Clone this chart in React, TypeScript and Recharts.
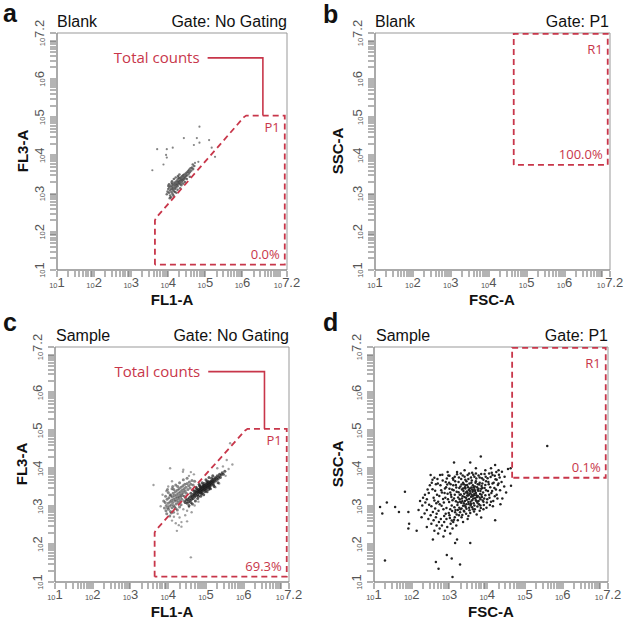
import React from 'react'
import { ScatterChart, Scatter, XAxis, YAxis, ReferenceArea, ReferenceDot } from 'recharts'

// ── Data (all values in log10 units) ─────────────────────────────────────────

const AXIS_EXPONENTS = [1, 2, 3, 4, 5, 6, 7, 7.2]
const LABELLED_EXPONENTS = [1, 2, 3, 4, 5, 6, 7.2]
const MINOR_STEPS = [2, 3, 4, 5, 6, 7, 8, 9]

// P1 gate on FL1-A / FL3-A, closed polygon
const GATE_P1: [number, number][] = [
  [3.64, 1.14], [3.64, 2.3], [3.67, 2.37], [3.72, 2.42], [6.04, 5.0], [6.1, 5.04],
  [7.14, 5.04], [7.14, 1.14], [3.64, 1.14],
]
// R1 gate on FSC-A / SSC-A
const GATE_R1: [number, number][] = [
  [4.66, 3.75], [4.66, 7.18], [7.14, 7.18], [7.14, 3.75], [4.66, 3.75],
]
const TOTAL_COUNTS_LEADER: [number, number][] = [[5.06, 6.55], [6.55, 6.55], [6.55, 5.04]]

// a: Blank, FL1-A vs FL3-A
const BLANK_FL_CLUSTER: [number, number][] = [
  [3.98, 3.05], [4.0, 3.12], [4.02, 3.02], [4.03, 3.16], [4.05, 3.08], [4.05, 2.95], [4.06, 3.2],
  [4.08, 3.12], [4.09, 3.03], [4.1, 3.18], [4.11, 3.25], [4.12, 3.1], [4.13, 3.14], [4.14, 3.22],
  [4.15, 3.06], [4.16, 3.28], [4.17, 3.18], [4.18, 3.12], [4.19, 3.24], [4.2, 3.3], [4.21, 3.16],
  [4.22, 3.22], [4.23, 3.34], [4.24, 3.26], [4.25, 3.19], [4.26, 3.3], [4.27, 3.38], [4.28, 3.24],
  [4.29, 3.32], [4.3, 3.28], [4.31, 3.4], [4.32, 3.34], [4.33, 3.26], [4.34, 3.42], [4.35, 3.36],
  [4.36, 3.31], [4.37, 3.45], [4.38, 3.38], [4.39, 3.34], [4.4, 3.48], [4.41, 3.42], [4.42, 3.37],
  [4.43, 3.5], [4.44, 3.44], [4.46, 3.4], [4.47, 3.52], [4.48, 3.46], [4.5, 3.55], [4.51, 3.48],
  [4.53, 3.58], [4.55, 3.52], [4.56, 3.62], [4.58, 3.56], [4.6, 3.66], [4.62, 3.6], [4.64, 3.68],
  [4.67, 3.64], [4.7, 3.72], [4.07, 2.9], [4.12, 2.98], [4.18, 3.04], [4.25, 3.1], [4.02, 3.24],
  [4.1, 3.32], [4.2, 3.42], [4.3, 3.5], [4.45, 3.3], [4.15, 3.38], [4.26, 3.46], [4.35, 3.22],
  [3.96, 2.98], [4.0, 3.2], [4.04, 2.88], [4.09, 3.28], [4.14, 2.94], [4.22, 3.02], [4.28, 3.42],
  [4.32, 3.14], [4.4, 3.26], [4.5, 3.38], [4.58, 3.44], [4.66, 3.76],
]
const BLANK_FL_OUTLIERS: [number, number][] = [
  [4.84, 4.75], [4.42, 4.45], [4.77, 4.45], [5.1, 4.4], [4.84, 4.33], [4.69, 4.27], [5.17, 4.2],
  [3.7, 4.16], [4.12, 4.2], [3.96, 4.16], [3.94, 4.01], [3.96, 3.94], [3.87, 3.76], [3.57, 3.61],
  [4.72, 3.8], [4.81, 3.83], [5.26, 3.96],
]

// c: Sample, FL1-A vs FL3-A
const SAMPLE_FL_UPPER: [number, number][] = [
  [3.9, 2.95], [3.92, 3.1], [3.94, 2.88], [3.95, 3.02], [3.97, 3.18], [3.98, 2.96], [4.0, 3.08],
  [4.01, 2.92], [4.02, 3.22], [4.03, 3.0], [4.05, 3.12], [4.06, 2.86], [4.07, 3.28], [4.08, 3.04],
  [4.09, 3.16], [4.1, 2.96], [4.11, 3.24], [4.12, 3.1], [4.13, 3.34], [4.14, 3.02], [4.15, 3.18],
  [4.16, 3.28], [4.17, 2.98], [4.18, 3.14], [4.19, 3.38], [4.2, 3.22], [4.21, 3.06], [4.22, 3.3],
  [4.23, 3.16], [4.24, 3.42], [4.25, 3.24], [4.26, 3.1], [4.27, 3.34], [4.28, 3.2], [4.29, 3.46],
  [4.3, 3.28], [4.31, 3.14], [4.32, 3.38], [4.33, 3.24], [4.34, 3.5], [4.35, 3.32], [4.36, 3.18],
  [4.37, 3.42], [4.38, 3.28], [4.39, 3.54], [4.4, 3.36], [4.42, 3.46], [4.43, 3.26], [4.44, 3.58],
  [4.45, 3.4], [4.47, 3.5], [4.48, 3.34], [4.5, 3.6], [4.52, 3.44], [4.54, 3.54], [4.56, 3.64],
  [4.58, 3.48], [4.6, 3.58], [4.63, 3.68], [4.66, 3.56], [4.7, 3.66], [4.05, 3.3], [4.15, 3.44],
  [4.25, 3.52], [3.96, 2.8], [4.08, 2.82], [4.2, 2.94], [4.34, 3.04], [3.88, 3.14], [3.93, 3.26],
  [4.0, 3.36], [4.1, 3.46], [4.2, 3.56], [4.3, 3.62], [4.4, 3.7], [4.5, 3.74], [4.04, 2.74],
  [4.14, 2.84], [4.24, 2.9], [4.3, 2.98], [4.42, 3.14], [4.46, 3.22], [3.98, 3.44], [4.12, 3.52],
]
const SAMPLE_FL_LOWER: [number, number][] = [
  [4.45, 3.1], [4.48, 3.16], [4.5, 3.08], [4.52, 3.18], [4.54, 3.12], [4.56, 3.22], [4.58, 3.16],
  [4.6, 3.26], [4.62, 3.18], [4.63, 3.24], [4.65, 3.3], [4.66, 3.2], [4.68, 3.28], [4.69, 3.34],
  [4.7, 3.24], [4.72, 3.32], [4.73, 3.38], [4.74, 3.28], [4.76, 3.36], [4.77, 3.42], [4.78, 3.3],
  [4.79, 3.38], [4.8, 3.44], [4.81, 3.34], [4.82, 3.4], [4.83, 3.46], [4.84, 3.36], [4.85, 3.42],
  [4.86, 3.48], [4.87, 3.38], [4.88, 3.44], [4.89, 3.5], [4.9, 3.4], [4.91, 3.46], [4.92, 3.52],
  [4.93, 3.42], [4.94, 3.48], [4.95, 3.54], [4.96, 3.44], [4.97, 3.5], [4.98, 3.56], [4.99, 3.46],
  [5.0, 3.52], [5.01, 3.58], [5.02, 3.48], [5.03, 3.54], [5.04, 3.6], [5.05, 3.5], [5.06, 3.56],
  [5.07, 3.62], [5.08, 3.52], [5.09, 3.58], [5.1, 3.64], [5.11, 3.54], [5.12, 3.6], [5.13, 3.66],
  [5.14, 3.56], [5.15, 3.62], [5.16, 3.68], [5.18, 3.6], [5.19, 3.66], [5.2, 3.72], [5.22, 3.64],
  [5.23, 3.7], [5.25, 3.76], [5.27, 3.68], [5.28, 3.74], [5.3, 3.8], [5.32, 3.72], [5.34, 3.78],
  [5.36, 3.84], [5.38, 3.76], [5.4, 3.82], [5.43, 3.88], [5.46, 3.84], [5.5, 3.92], [4.85, 3.52],
  [4.9, 3.34], [4.95, 3.6], [5.0, 3.42], [5.05, 3.66], [5.1, 3.48], [4.75, 3.46], [4.8, 3.26],
  [5.15, 3.74], [5.2, 3.56], [4.7, 3.4], [4.6, 3.1], [4.92, 3.56], [4.97, 3.38], [5.02, 3.64],
  [5.07, 3.44], [4.88, 3.32], [4.83, 3.54], [4.55, 3.02], [4.64, 3.06], [4.72, 3.14], [4.78, 3.2],
  [4.86, 3.26], [4.94, 3.3], [5.03, 3.38], [5.12, 3.46], [5.22, 3.52], [5.32, 3.62], [4.6, 3.34],
  [4.66, 3.42], [4.74, 3.5], [4.82, 3.58], [4.9, 3.62], [5.0, 3.7], [5.08, 3.76], [5.18, 3.8],
]
const SAMPLE_FL_SPREAD: [number, number][] = [
  [4.05, 4.0], [3.61, 3.56], [4.4, 3.96], [5.55, 4.22], [4.23, 2.35], [4.6, 1.65], [5.64, 4.66],
  [4.39, 3.91], [4.1, 2.62], [4.2, 2.55], [4.3, 2.7], [4.35, 2.58], [4.45, 2.76], [4.15, 2.72],
  [4.5, 2.88], [4.25, 2.8], [4.4, 2.92], [3.85, 3.3], [3.95, 3.4], [4.0, 3.52], [4.55, 3.8],
  [4.6, 3.9], [5.3, 4.0], [5.45, 4.05], [5.6, 3.98], [4.7, 3.02], [4.8, 3.12], [4.35, 2.46],
  [4.55, 2.98], [5.35, 3.6], [5.25, 3.5], [4.5, 2.6], [4.62, 2.84], [4.28, 2.5], [3.8, 3.0],
  [5.7, 4.1], [5.52, 3.8], [4.68, 3.84], [4.1, 3.66],
]

// d: Sample, FSC-A vs SSC-A
const SAMPLE_SCATTER_CORE: [number, number][] = [
  [3.21, 3.03], [3.24, 3.37], [3.27, 3.18], [3.29, 3.52], [3.31, 3.09], [3.33, 3.44], [3.35, 3.26],
  [3.36, 3.01], [3.38, 3.58], [3.39, 3.33], [3.41, 3.14], [3.42, 3.47], [3.44, 3.22], [3.45, 3.05],
  [3.46, 3.39], [3.47, 3.56], [3.49, 3.28], [3.5, 3.11], [3.51, 3.43], [3.52, 3.19], [3.53, 3.6],
  [3.55, 3.34], [3.56, 3.02], [3.57, 3.25], [3.58, 3.49], [3.6, 3.16], [3.61, 3.38], [3.62, 3.55],
  [3.64, 3.08], [3.65, 3.29], [3.66, 3.45], [3.68, 3.21], [3.69, 3.62], [3.7, 3.35], [3.72, 3.13],
  [3.73, 3.5], [3.75, 3.27], [3.76, 3.41], [3.78, 3.05], [3.79, 3.57], [3.81, 3.32], [3.82, 3.18],
  [3.84, 3.46], [3.86, 3.24], [3.87, 3.6], [3.89, 3.36], [3.9, 3.12], [3.23, 3.23], [3.26, 3.48],
  [3.3, 3.31], [3.34, 3.13], [3.37, 3.4], [3.4, 3.24], [3.43, 3.55], [3.48, 3.35], [3.51, 3.06],
  [3.54, 3.47], [3.59, 3.3], [3.63, 3.2], [3.67, 3.52], [3.71, 3.29], [3.74, 3.09], [3.77, 3.46],
  [3.8, 3.23], [3.85, 3.53], [3.88, 3.15], [3.32, 3.57], [3.46, 3.17], [3.58, 3.62], [3.62, 3.41],
  [3.7, 3.16], [3.52, 3.3], [3.44, 3.36], [3.36, 3.47], [3.28, 3.12], [3.66, 3.33], [3.75, 3.58],
  [3.56, 3.12], [3.4, 3.02], [3.49, 3.5], [3.6, 3.44], [3.82, 3.4],
]
const SAMPLE_SCATTER_RING: [number, number][] = [
  [2.62, 3.41], [2.65, 3.08], [2.68, 3.72], [2.71, 2.88], [2.73, 3.27], [2.76, 3.55], [2.79, 3.01],
  [2.81, 3.83], [2.83, 3.19], [2.86, 2.74], [2.88, 3.47], [2.9, 3.64], [2.92, 2.95], [2.95, 3.33],
  [2.97, 3.81], [2.99, 3.11], [3.01, 2.69], [3.03, 3.58], [3.05, 3.24], [3.07, 2.87], [3.09, 3.74],
  [3.11, 3.42], [3.13, 2.97], [3.15, 3.66], [3.17, 3.13], [3.19, 2.78], [3.2, 3.84], [3.22, 2.9],
  [3.25, 3.76], [3.28, 2.84], [3.32, 2.94], [3.35, 3.81], [3.39, 2.86], [3.42, 3.7], [3.45, 2.93],
  [3.48, 3.82], [3.53, 2.89], [3.57, 3.76], [3.6, 2.97], [3.63, 3.83], [3.67, 2.92], [3.71, 3.73],
  [3.74, 2.99], [3.77, 3.81], [3.83, 2.95], [3.86, 3.74], [3.91, 3.03], [3.93, 3.48], [3.95, 3.29],
  [3.97, 3.66], [3.99, 3.1], [4.02, 3.4], [4.04, 3.58], [4.06, 3.22], [4.09, 3.77], [4.11, 3.35],
  [4.14, 3.6], [4.16, 3.14], [4.19, 3.48], [4.22, 3.71], [4.25, 3.3], [4.28, 3.56], [4.31, 3.83],
  [4.34, 3.42], [4.38, 3.64], [2.58, 3.22], [2.64, 3.58], [2.7, 3.12], [2.75, 3.82], [2.8, 3.36],
  [2.84, 2.92], [2.89, 3.22], [2.94, 3.57], [2.98, 2.82], [3.02, 3.36], [3.06, 3.02], [3.1, 3.55],
  [3.14, 3.3], [3.18, 3.49], [3.93, 3.85], [3.98, 2.96], [4.01, 3.74], [4.07, 3.03], [4.12, 3.88],
  [4.2, 3.26], [2.93, 3.73], [3.0, 3.46], [3.08, 3.16], [3.16, 2.9], [3.26, 2.96], [3.34, 2.77],
  [3.44, 2.8], [3.55, 2.82], [3.65, 2.86], [3.8, 2.88], [3.9, 2.92], [2.5, 3.82], [2.55, 3.7],
  [3.3, 3.86], [3.6, 3.88], [3.7, 3.86], [3.84, 3.85],
]
const SAMPLE_SCATTER_FILL: [number, number][] = [
  [2.55, 3.45], [2.6, 3.15], [2.67, 3.3], [2.69, 3.6], [2.74, 3.05], [2.78, 3.42], [2.82, 3.68],
  [2.85, 3.1], [2.87, 3.35], [2.91, 3.5], [2.96, 3.18], [2.99, 3.62], [3.02, 2.92], [3.04, 3.3],
  [3.07, 3.44], [3.1, 3.7], [3.12, 3.2], [3.15, 2.84], [3.17, 3.56], [3.19, 3.38], [3.22, 3.1],
  [3.24, 3.64], [3.27, 3.3], [3.29, 2.92], [3.31, 3.72], [3.33, 3.2], [3.36, 3.62], [3.38, 3.08],
  [3.41, 3.5], [3.43, 2.98], [3.45, 3.66], [3.47, 3.28], [3.5, 3.72], [3.52, 2.96], [3.54, 3.4],
  [3.57, 3.06], [3.59, 3.68], [3.61, 3.26], [3.64, 3.5], [3.66, 3.02], [3.68, 3.4], [3.7, 3.66],
  [3.73, 3.24], [3.75, 3.44], [3.77, 3.14], [3.8, 3.62], [3.82, 3.02], [3.85, 3.3], [3.87, 3.48],
  [3.9, 3.7], [3.92, 3.2], [3.95, 3.56], [3.97, 3.42], [4.0, 3.18], [4.03, 3.64], [4.05, 3.3],
  [4.08, 3.5], [4.1, 3.12], [4.13, 3.4], [4.17, 3.62], [4.2, 3.8], [4.23, 3.44], [4.27, 3.2],
  [4.3, 3.6], [4.33, 3.76], [2.66, 2.8], [2.77, 2.66], [2.9, 2.8], [3.03, 2.54], [3.12, 2.64],
  [3.25, 2.76], [3.38, 2.88], [3.5, 2.74], [3.62, 2.92], [2.46, 3.04], [2.42, 3.44], [2.35, 3.3],
  [2.53, 3.62], [2.6, 3.75], [3.0, 3.8], [3.14, 3.78], [3.4, 3.78], [3.52, 3.86], [3.66, 3.78],
  [3.8, 3.76], [3.96, 3.78], [4.14, 3.82],
]
const SAMPLE_SCATTER_SPARSE: [number, number][] = [
  [2.48, 3.55], [2.52, 3.0], [2.45, 3.35], [2.4, 3.18], [2.36, 3.1], [2.3, 3.22], [2.22, 3.14],
  [2.28, 3.02], [2.18, 2.9], [2.4, 2.9], [2.34, 2.81], [2.26, 2.71], [2.44, 2.66], [2.56, 2.85],
  [2.62, 2.94], [2.5, 2.76], [2.58, 2.63], [2.64, 2.71], [2.72, 2.58], [2.8, 2.49], [2.86, 2.58],
  [2.92, 2.66], [3.0, 2.76], [3.06, 2.62], [3.1, 2.58], [3.14, 2.71], [3.18, 2.49], [3.22, 2.63],
  [3.32, 2.71], [3.36, 2.58], [3.48, 2.66], [2.52, 2.54], [2.4, 2.45], [2.66, 2.49], [2.74, 2.41],
  [2.94, 2.45], [3.08, 2.41], [2.6, 2.35], [2.88, 2.35], [2.13, 2.35], [2.7, 2.28], [3.02, 2.28],
  [2.84, 2.2], [2.56, 2.12], [3.2, 2.12], [3.15, 2.03], [3.55, 2.03], [2.93, 1.71], [3.06, 1.62],
  [1.29, 1.57], [2.64, 1.53], [3.28, 1.46], [2.71, 1.35], [3.08, 1.13], [1.91, 2.41], [1.93, 2.54],
  [1.66, 2.85], [1.91, 2.85], [1.22, 2.81], [1.16, 2.98], [1.56, 2.98], [1.34, 3.1], [1.82, 3.38],
  [4.21, 2.63], [3.72, 2.78], [3.84, 2.7], [4.4, 3.2], [4.45, 3.52], [4.5, 3.36], [4.63, 3.54],
  [4.62, 4.0], [4.39, 3.91], [4.3, 3.95], [4.21, 4.09], [3.83, 4.31], [3.12, 4.15], [3.55, 4.15],
  [3.7, 4.0], [3.95, 3.95], [3.4, 3.95], [4.05, 3.86], [4.25, 3.7], [4.35, 3.05], [4.15, 3.0],
  [4.24, 3.9], [4.46, 3.78], [4.55, 3.98], [3.2, 3.9], [2.95, 3.9], [4.1, 4.0],
]
const SAMPLE_R1_EVENTS: [number, number][] = [[5.59, 4.59]]

// ── Helpers ──────────────────────────────────────────────────────────────────

const RED = '#c8364a'
const SANS = '"Liberation Sans", Arial, sans-serif'
const ANNOT = '"Open Sans", "Noto Sans", sans-serif'
const DOMAIN: [number, number] = [10, 10 ** 7.2]

const toPoints = (pairs: [number, number][]) => pairs.map(([lx, ly]) => ({ x: 10 ** lx, y: 10 ** ly }))

const MAJOR_TICKS = AXIS_EXPONENTS.map((e) => 10 ** e)
const MINOR_TICKS = AXIS_EXPONENTS.filter((e) => e < 7).flatMap((e) => MINOR_STEPS.map((k) => k * 10 ** e))
const TICKS = [...MAJOR_TICKS, ...MINOR_TICKS].sort((a, b) => a - b)

const labelExponent = (v: number) => LABELLED_EXPONENTS.find((e) => Math.abs(Math.log10(v) - e) < 1e-6)

// x/y arrive at the axis line (tickSize 0); the comb mark is drawn here too
function XTick({ x, y, payload }: any) {
  const e = labelExponent(payload.value)
  const px = Math.round(x)
  return (
    <g>
      <rect x={px - 0.5} y={y + 1} width={1} height={6} fill="#6a6a6a" />
      {e !== undefined && (
        <text x={x} y={y + 18} textAnchor="middle" fill="#555" fontFamily={SANS}>
          <tspan fontSize={7.5}>10</tspan>
          <tspan fontSize={13} dy={-1}>{e}</tspan>
        </text>
      )}
    </g>
  )
}

function YTick({ x, y, payload }: any) {
  const e = labelExponent(payload.value)
  const py = Math.round(y)
  return (
    <g>
      <rect x={x - 7} y={py - 0.5} width={6} height={1} fill="#6a6a6a" />
      {e !== undefined && (
        <text x={x - 12} y={y} transform={`rotate(-90 ${x - 12} ${y})`} textAnchor="middle" fill="#555" fontFamily={SANS}>
          <tspan fontSize={7.5}>10</tspan>
          <tspan fontSize={13} dy={-1}>{e}</tspan>
        </text>
      )}
    </g>
  )
}

const NoDot = () => <g />
const dot = (fill: string, r: number, opacity = 1) => (p: any) => (
  <circle cx={p.cx} cy={p.cy} r={r} fill={fill} fillOpacity={opacity} />
)

// text anchored to a gate corner, shifted by (dx, dy) pixels
const cornerText = (text: string, dx: number, dy: number, size: number) => (p: any) => (
  <text x={p.cx + dx} y={p.cy + dy} textAnchor="end" fill={RED} fontSize={size} fontFamily={ANNOT}>
    {text}
  </text>
)

type Series = { data: [number, number][]; fill: string; r: number; opacity?: number }

type PanelProps = {
  left: number
  top: number
  width: number
  height: number
  marginRight: number
  yWidth: number
  xHeight: number
  gate: 'P1' | 'R1'
  percent: string
  series: Series[]
}

function FlowPlot({ left, top, width, height, marginRight, yWidth, xHeight, gate, percent, series }: PanelProps) {
  const poly = gate === 'P1' ? GATE_P1 : GATE_R1
  const right = poly[poly.length - 2][0]
  const topY = gate === 'P1' ? GATE_P1[6][1] : GATE_R1[1][1]
  const bottomY = poly[0][1]
  return (
    <div style={{ position: 'absolute', left, top }}>
      <ScatterChart width={width} height={height} margin={{ top: 33, right: marginRight, bottom: 0, left: 0 }}>
        <XAxis
          type="number"
          dataKey="x"
          scale="log"
          domain={DOMAIN}
          allowDataOverflow
          ticks={TICKS}
          interval={0}
          tick={<XTick />}
          tickLine={false}
          tickSize={0}
          tickMargin={0}
          height={xHeight}
          axisLine={{ stroke: '#888' }}
        />
        <YAxis
          type="number"
          dataKey="y"
          scale="log"
          domain={DOMAIN}
          allowDataOverflow
          ticks={TICKS}
          interval={0}
          tick={<YTick />}
          tickLine={false}
          tickSize={0}
          tickMargin={0}
          width={yWidth}
          axisLine={{ stroke: '#888' }}
        />
        <ReferenceArea x1={DOMAIN[0]} x2={DOMAIN[1]} y1={DOMAIN[0]} y2={DOMAIN[1]} fill="none" stroke="#999" />
        {series.map((s, i) => (
          <Scatter key={i} data={toPoints(s.data)} shape={dot(s.fill, s.r, s.opacity)} isAnimationActive={false} />
        ))}
        <Scatter
          data={toPoints(poly)}
          shape={NoDot}
          line={{ stroke: RED, strokeWidth: 1.8, strokeDasharray: '6 4', fill: 'none' }}
          lineType="joint"
          isAnimationActive={false}
        />
        {gate === 'P1' && (
          <Scatter
            data={toPoints(TOTAL_COUNTS_LEADER)}
            shape={NoDot}
            line={{ stroke: RED, strokeWidth: 1.6, fill: 'none' }}
            lineType="joint"
            isAnimationActive={false}
          />
        )}
        {gate === 'P1' && (
          <ReferenceDot
            x={10 ** TOTAL_COUNTS_LEADER[0][0]}
            y={10 ** TOTAL_COUNTS_LEADER[0][1]}
            r={0}
            shape={cornerText('Total counts', -8, 5, 15)}
          />
        )}
        <ReferenceDot x={10 ** right} y={10 ** topY} r={0} shape={cornerText(gate, -5, gate === 'P1' ? 16 : 20, 13)} />
        <ReferenceDot x={10 ** right} y={10 ** bottomY} r={0} shape={cornerText(percent, -5, -6, 13)} />
      </ScatterChart>
    </div>
  )
}

// ── Component ────────────────────────────────────────────────────────────────

export default function App() {
  const label = { fontFamily: SANS, fill: '#111' }
  return (
    <div style={{ position: 'absolute', left: 0, top: 0, width: 624, height: 622, background: '#fff' }}>
      <FlowPlot
        left={0} top={0} width={312} height={300} marginRight={25} yWidth={57} xHeight={30}
        gate="P1" percent="0.0%"
        series={[
          { data: BLANK_FL_OUTLIERS, fill: '#777', r: 1.1, opacity: 0.9 },
          { data: BLANK_FL_CLUSTER, fill: '#444', r: 1.3, opacity: 0.75 },
        ]}
      />
      <FlowPlot
        left={312} top={0} width={312} height={300} marginRight={14} yWidth={63} xHeight={30}
        gate="R1" percent="100.0%" series={[]}
      />
      <FlowPlot
        left={0} top={314} width={312} height={308} marginRight={23} yWidth={55} xHeight={40}
        gate="P1" percent="69.3%"
        series={[
          { data: SAMPLE_FL_SPREAD, fill: '#888', r: 1.2, opacity: 0.8 },
          { data: SAMPLE_FL_UPPER, fill: '#3a3a3a', r: 1.5, opacity: 0.6 },
          { data: SAMPLE_FL_LOWER, fill: '#1a1a1a', r: 1.5, opacity: 0.7 },
        ]}
      />
      <FlowPlot
        left={312} top={314} width={312} height={308} marginRight={16} yWidth={62} xHeight={40}
        gate="R1" percent="0.1%"
        series={[
          { data: SAMPLE_SCATTER_SPARSE, fill: '#222', r: 1.25 },
          { data: SAMPLE_SCATTER_RING, fill: '#222', r: 1.25 },
          { data: SAMPLE_SCATTER_FILL, fill: '#222', r: 1.25 },
          { data: SAMPLE_SCATTER_CORE, fill: '#222', r: 1.25 },
          { data: SAMPLE_R1_EVENTS, fill: '#222', r: 1.25 },
        ]}
      />
      <svg width={624} height={622} style={{ position: 'absolute', left: 0, top: 0, pointerEvents: 'none' }}>
        <g {...label} fontWeight="bold" fontSize={25}>
          <text x={3} y={22}>a</text>
          <text x={323} y={23}>b</text>
          <text x={3} y={331}>c</text>
          <text x={323} y={331}>d</text>
        </g>
        <g {...label} fontSize={16}>
          <text x={57} y={27}>Blank</text>
          <text x={287} y={27} textAnchor="end">Gate: No Gating</text>
          <text x={375} y={27}>Blank</text>
          <text x={609} y={27} textAnchor="end">Gate: P1</text>
          <text x={56} y={341}>Sample</text>
          <text x={289} y={341} textAnchor="end">Gate: No Gating</text>
          <text x={376} y={341}>Sample</text>
          <text x={608} y={341} textAnchor="end">Gate: P1</text>
        </g>
        <g {...label} fontWeight="bold" fontSize={15} textAnchor="middle">
          <text x={172} y={305}>FL1-A</text>
          <text x={492} y={305}>FSC-A</text>
          <text x={172} y={617}>FL1-A</text>
          <text x={491} y={617}>FSC-A</text>
          <text x={28} y={151} transform="rotate(-90 28 151)">FL3-A</text>
          <text x={343} y={151} transform="rotate(-90 343 151)">SSC-A</text>
          <text x={27} y={464} transform="rotate(-90 27 464)">FL3-A</text>
          <text x={343} y={464} transform="rotate(-90 343 464)">SSC-A</text>
        </g>
      </svg>
    </div>
  )
}
